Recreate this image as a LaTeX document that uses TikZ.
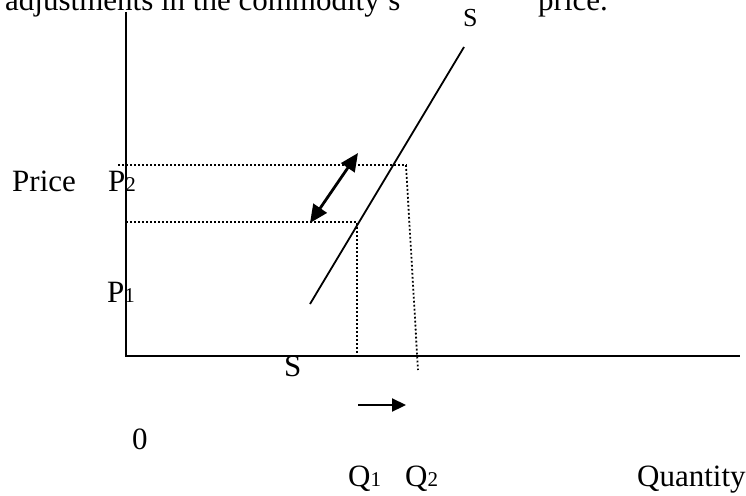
\documentclass[tikz,border=0pt]{standalone}
\usepackage{fontspec}
\setmainfont{Liberation Serif}
\usetikzlibrary{arrows.meta}
\newcommand\subsc[1]{{\fontsize{21}{24}\selectfont #1}}
\begin{document}
\begin{tikzpicture}[x=1pt,y=-1pt,
  lbl/.style={font=\fontsize{31}{36}\selectfont, inner sep=0pt, anchor=base west},
  axis/.style={line width=2pt},
  curve/.style={line width=1.8pt},
  guide/.style={line width=1.8pt, dash pattern=on 1.8pt off 2.2pt},
  bigarrow/.style={line width=2.8pt, {Triangle[length=18pt,width=16pt]}-{Triangle[length=18pt,width=16pt]}},
  smallarrow/.style={line width=2.2pt, -{Triangle[length=14pt,width=13pt]}}]
\useasboundingbox (0,0) rectangle (746,495);
\clip (0,0) rectangle (746,495);
\fill[white] (0,0) rectangle (746,495);

% texts
\node[lbl] (top1) at (5,11) {adjustments in the commodity's};
\node[lbl] (top2) at (538,11) {price.};
\node[lbl, font=\fontsize{26}{30}\selectfont] (stop) at (463,27) {S};
\node[lbl] (price) at (12,191) {Price};
\node[lbl] (p2) at (108,191) {P\subsc{2}};
\node[lbl] (p1) at (107,302) {P\subsc{1}};
\node[lbl] (sbot) at (284,376) {S};
\node[lbl] (zero) at (132,449) {0};
\node[lbl] (q1) at (348,486) {Q\subsc{1}};
\node[lbl] (q2) at (405,486) {Q\subsc{2}};
\node[lbl] (qty) at (637,486) {Quantity};

% coordinates
\coordinate (O) at (126,356);
\coordinate (ytop) at (126,12);
\coordinate (xend) at (740,356);
\coordinate (s1) at (310,304);
\coordinate (s2) at (464,47);
\coordinate (p2l) at (118,165);
\coordinate (p2r) at (406,165);
\coordinate (q2b) at (418,370);
\coordinate (p1l) at (126,222);
\coordinate (p1r) at (357,222);
\coordinate (q1b) at (357,356);
\coordinate (da) at (310,223);
\coordinate (db) at (358,153);
\coordinate (sa) at (358,405);
\coordinate (sb) at (406,405);

% axes
\draw[axis] (ytop) -- (O) -- (xend);
% supply curve
\draw[curve] (s1) -- (s2);
% guides
\draw[guide] (p2l) -- (p2r) -- (q2b);
\draw[guide] (p1l) -- (p1r) -- (q1b);
% arrows
\draw[bigarrow] (da) -- (db);
\draw[smallarrow] (sa) -- (sb);
\end{tikzpicture}
\end{document}
